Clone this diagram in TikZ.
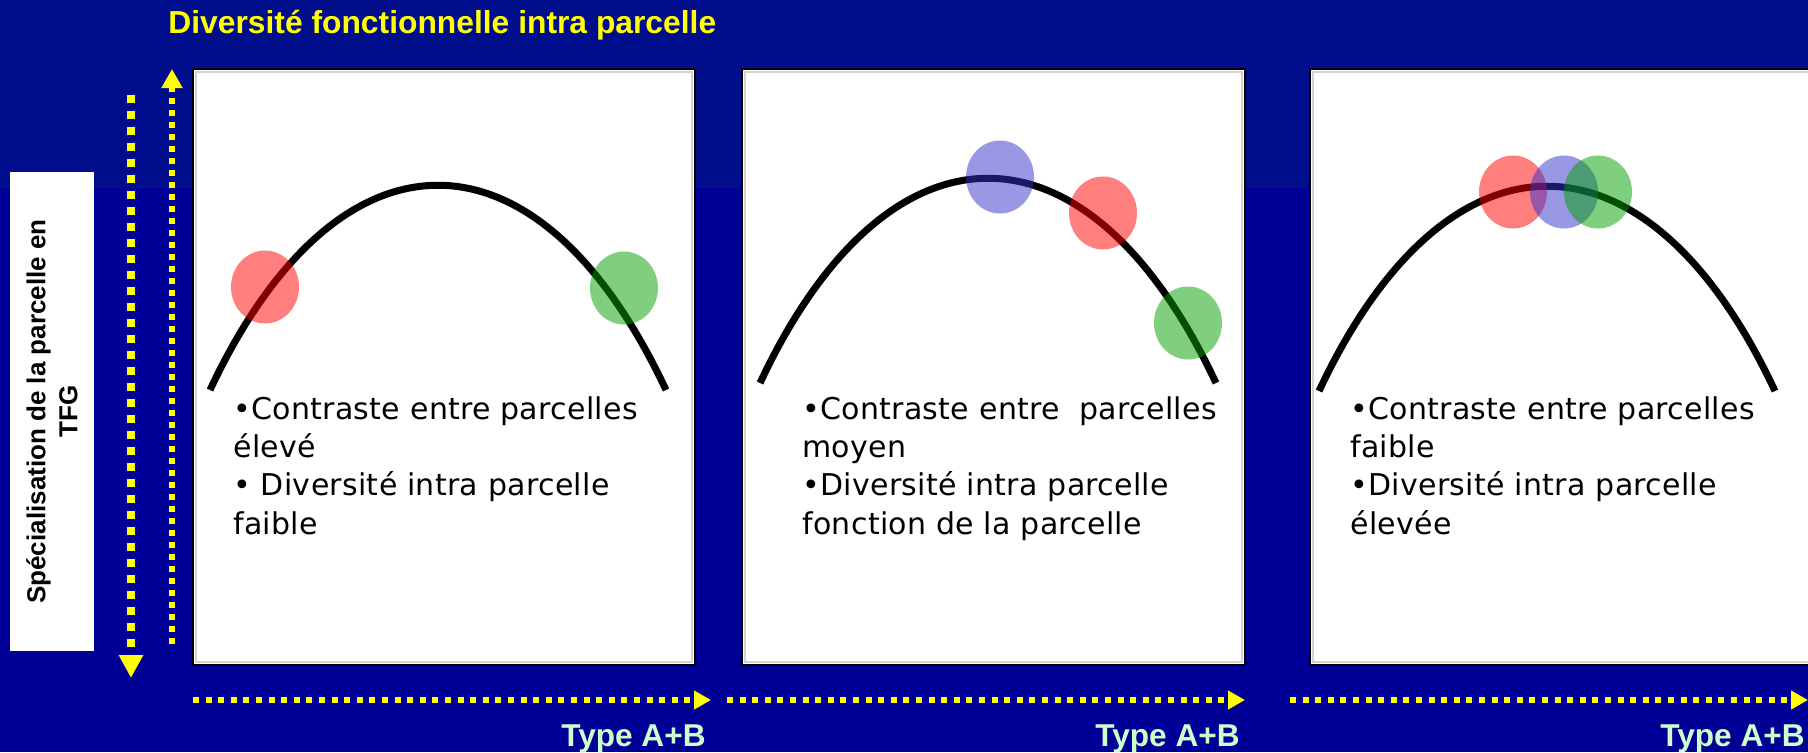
\documentclass[tikz,border=0pt]{standalone}
\usepackage{fontspec}
\setmainfont{Liberation Sans}
\newfontfamily\panelfont[LetterSpace=1]{DejaVu Sans}
\usetikzlibrary{arrows.meta}
\definecolor{fondhaut}{RGB}{0,14,140}
\definecolor{fondbas}{RGB}{0,0,150}
\definecolor{jaune}{RGB}{255,255,0}
\definecolor{vertpale}{RGB}{204,255,204}
\definecolor{rouge}{RGB}{255,0,0}
\definecolor{bleu}{RGB}{51,51,204}
\definecolor{vert}{RGB}{0,160,0}
\tikzset{
  panneau/.style={fill=white,draw=black,line width=1.25pt},
  courbe/.style={line width=3.5pt},
  tache/.style={fill opacity=0.5,x radius=17pt,y radius=18.25pt},
  texte/.style={anchor=north west,align=left,inner sep=0pt,
    font=\panelfont\fontsize{15}{19.15}\selectfont},
  titre/.style={text=jaune,inner sep=0pt,font=\bfseries\fontsize{15.9}{18}\selectfont},
  typeab/.style={text=vertpale,inner sep=0pt,font=\bfseries\fontsize{15.8}{18}\selectfont},
  etiquette/.style={fill=white,rotate=90,minimum width=239.5pt,minimum height=42pt,
    align=center,inner sep=0pt,font=\bfseries\fontsize{13}{16}\selectfont},
  flecheA/.style={jaune,line width=4pt,dash pattern=on 4pt off 4pt,
    -{Triangle[length=11.5pt,width=11.5pt]}},
  flecheB/.style={jaune,line width=3pt,dash pattern=on 3pt off 3pt,
    -{Triangle[length=9.5pt,width=10pt]}},
  flecheH/.style={jaune,line width=3pt,dash pattern=on 3pt off 3.3pt,
    -{Triangle[length=8.5pt,width=9pt]}}
}
\begin{document}
\begin{tikzpicture}[x=0.5pt,y=-0.5pt]
  % Fond
  \fill[fondbas] (0,0) rectangle (1808,752);
  \fill[fondhaut] (0,0) rectangle (1808,188);
  \useasboundingbox (0,0) rectangle (1808,752);

  % Titre
  \node[titre,anchor=base west] (titre) at (168,33) {Diversité fonctionnelle intra parcelle};

  % Axe vertical
  \node[etiquette] (axe) at (52,411.5) {Spécialisation de la parcelle en\\TFG};
  \coordinate (va1) at (131,95);  \coordinate (vb1) at (131,678);
  \coordinate (va2) at (172,644); \coordinate (vb2) at (172,69);
  \draw[flecheA] (va1) -- (vb1);
  \draw[flecheB] (va2) -- (vb2);

  % Panneaux
  \foreach \g/\d in {193/695, 742/1245, 1310/1830} {
    \draw[panneau] (\g,69) rectangle (\d,665);
    \draw[gray!35,line width=0.75pt] (\g+3,72) rectangle (\d-3,662);
  }

  % Courbes
  \foreach \cx/\py in {438/185, 988/178, 1547/186}
    \draw[courbe] (\cx-228,\py+205) .. controls (\cx-100,\py-68) and (\cx+100,\py-68) .. (\cx+228,\py+205);

  % Parcelles
  \fill[rouge,tache] (265,287) circle;
  \fill[vert,tache] (624,288) circle;
  \fill[bleu,tache] (1000,177) circle;
  \fill[rouge,tache] (1103,213) circle;
  \fill[vert,tache] (1188,323) circle;
  \fill[rouge,tache] (1513,192) circle;
  \fill[bleu,tache] (1564,192) circle;
  \fill[vert,tache] (1598,192) circle;

  % Textes
  \node[texte] (t1) at (233,396) {•Contraste entre parcelles\\élevé\\• Diversité intra parcelle\\faible};
  \node[texte] (t2) at (802,396) {•Contraste entre~ parcelles\\moyen\\•Diversité intra parcelle\\fonction de la parcelle};
  \node[texte] (t3) at (1350,396) {•Contraste entre parcelles\\faible\\•Diversité intra parcelle\\élevée};

  % Axes horizontaux
  \foreach \a/\b [count=\i] in {193/711, 727/1245, 1290/1808} {
    \coordinate (ha\i) at (\a,700); \coordinate (hb\i) at (\b,700);
    \draw[flecheH] (ha\i) -- (hb\i);
  }
  \foreach \x [count=\i] in {706,1240,1805}
    \node[typeab,anchor=base east] (type\i) at (\x,746) {Type A+B};
\end{tikzpicture}
\end{document}
